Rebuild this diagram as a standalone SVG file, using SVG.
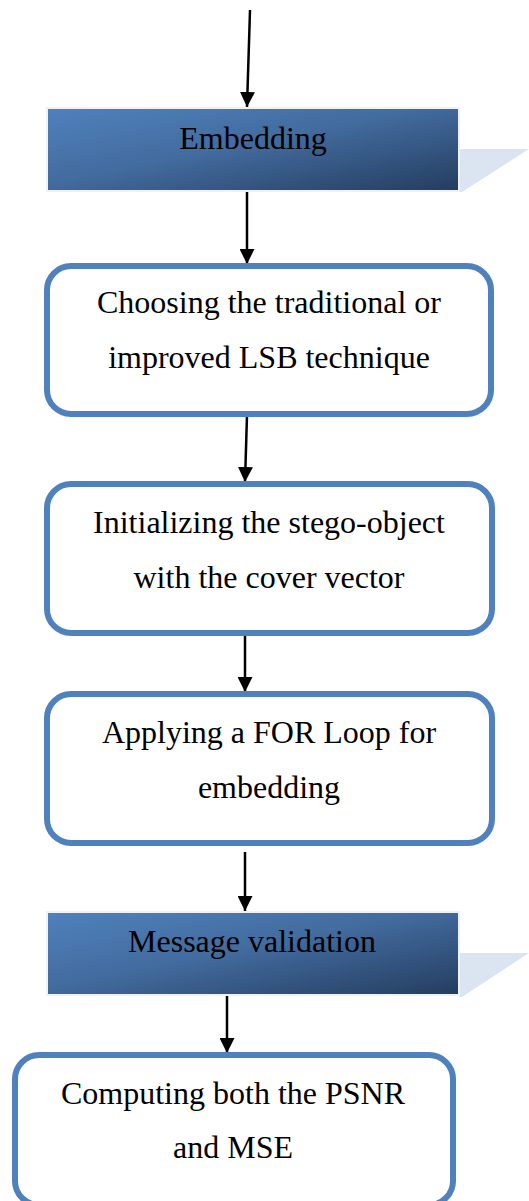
<svg xmlns="http://www.w3.org/2000/svg" width="529" height="1201" viewBox="0 0 529 1201">
  <style>
    .lbl { font-family: "Liberation Serif", "Times New Roman", serif; font-size: 32px; fill: #000; text-anchor: middle; }
    .step { fill: #ffffff; stroke: #4f81bd; stroke-width: 6; }
    .head { fill: url(#headFill); stroke: #eef1f5; stroke-width: 2; }
    .shade { fill: #dbe5f1; }
    .wire { stroke: #000; stroke-width: 2.5; fill: none; marker-end: url(#tip); }
  </style>
  <defs>
    <linearGradient id="headFill" x1="0" y1="0" x2="1" y2="1">
      <stop offset="0" stop-color="#4f81bd"/>
      <stop offset="0.45" stop-color="#436c9f"/>
      <stop offset="1" stop-color="#243d5f"/>
    </linearGradient>
    <marker id="tip" viewBox="0 0 15 15" refX="15" refY="7.5" markerWidth="15" markerHeight="15" markerUnits="userSpaceOnUse" orient="auto">
      <path d="M0,0 L15,7.5 L0,15 Z" fill="#000"/>
    </marker>
  </defs>

  <!-- connectors -->
  <g id="connectors">
    <line class="wire" x1="250" y1="10" x2="247" y2="107"/>
    <line class="wire" x1="247" y1="192" x2="247" y2="264"/>
    <line class="wire" x1="247" y1="415" x2="245" y2="482"/>
    <line class="wire" x1="245" y1="634" x2="245" y2="692"/>
    <line class="wire" x1="245" y1="852" x2="245" y2="911"/>
    <line class="wire" x1="227" y1="995" x2="227" y2="1053"/>
  </g>

  <!-- section header: Embedding -->
  <g id="embedding">
    <polygon class="shade" points="459,149 529,149 462,192 459,192"/>
    <rect class="head" x="47" y="108" width="412" height="83"/>
    <text class="lbl" x="253" y="149">Embedding</text>
  </g>

  <g id="choose-lsb">
    <rect class="step" x="47" y="266" width="444" height="148" rx="24" ry="24"/>
    <text class="lbl" x="269" y="313">Choosing the traditional or</text>
    <text class="lbl" x="269" y="368">improved LSB technique</text>
  </g>

  <g id="init-stego">
    <rect class="step" x="47" y="484" width="445" height="149" rx="24" ry="24"/>
    <text class="lbl" x="269" y="533">Initializing the stego-object</text>
    <text class="lbl" x="269" y="588">with the cover vector</text>
  </g>

  <g id="for-loop">
    <rect class="step" x="47" y="694" width="445" height="149" rx="24" ry="24"/>
    <text class="lbl" x="269" y="743">Applying a FOR Loop for</text>
    <text class="lbl" x="269" y="798">embedding</text>
  </g>

  <!-- section header: Message validation -->
  <g id="validation">
    <polygon class="shade" points="459,953 529,953 462,997 459,997"/>
    <rect class="head" x="47" y="912" width="412" height="83"/>
    <text class="lbl" x="252" y="952">Message validation</text>
  </g>

  <g id="psnr-mse">
    <rect class="step" x="15" y="1055" width="438" height="150" rx="24" ry="24"/>
    <text class="lbl" x="233" y="1104">Computing both the PSNR</text>
    <text class="lbl" x="233" y="1158">and MSE</text>
  </g>
</svg>
